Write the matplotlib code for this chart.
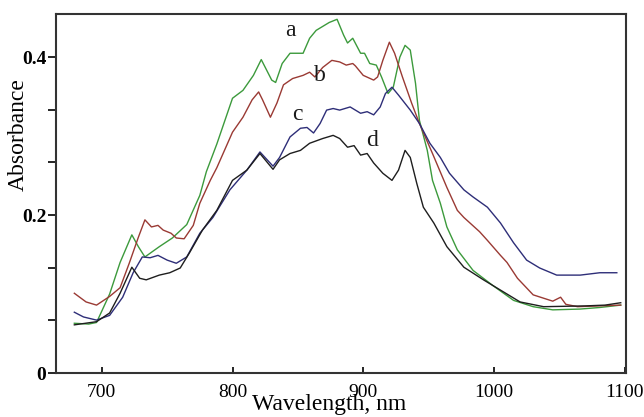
import numpy as np
import matplotlib.pyplot as plt
from matplotlib.ticker import FixedLocator, FuncFormatter

plt.rcParams['font.family'] = ['Liberation Serif', 'DejaVu Serif']

# curve a (green)
wl_a = [679, 690, 696, 706, 714, 723, 728, 733, 744, 754, 765, 775, 780, 788, 800, 808,
        816, 822, 830, 833, 838, 844, 854, 859, 864, 874, 880, 885, 888, 892, 898, 901,
        905, 910, 914, 919, 923, 928, 932, 936, 940, 943, 949, 953, 959, 964, 972, 984,
        999, 1015, 1030, 1045, 1066, 1081, 1097]
abs_a = [0.063, 0.062, 0.064, 0.100, 0.140, 0.175, 0.160, 0.147, 0.160, 0.171, 0.188, 0.225,
         0.255, 0.290, 0.348, 0.358, 0.377, 0.397, 0.371, 0.368, 0.392, 0.405, 0.405, 0.424,
         0.434, 0.444, 0.448, 0.428, 0.418, 0.424, 0.405, 0.405, 0.392, 0.390, 0.375, 0.354,
         0.362, 0.400, 0.415, 0.409, 0.367, 0.320, 0.282, 0.244, 0.215, 0.185, 0.156, 0.130,
         0.111, 0.092, 0.084, 0.080, 0.081, 0.083, 0.086]

# curve b (red)
wl_b = [679, 688, 696, 706, 714, 721, 728, 733, 738, 743, 747, 753, 757, 763, 770, 775,
        783, 788, 800, 808, 815, 820, 823, 829, 834, 839, 846, 854, 859, 863, 869, 876,
        882, 887, 892, 894, 900, 908, 911, 915, 920, 924, 930, 937, 943, 953, 964, 972,
        977, 989, 995, 1005, 1010, 1018, 1030, 1045, 1051, 1055, 1064, 1080, 1097]
abs_b = [0.101, 0.090, 0.086, 0.097, 0.108, 0.139, 0.172, 0.194, 0.185, 0.187, 0.181, 0.177,
         0.171, 0.170, 0.187, 0.215, 0.244, 0.260, 0.305, 0.324, 0.346, 0.356, 0.346, 0.324,
         0.342, 0.365, 0.373, 0.377, 0.381, 0.375, 0.387, 0.396, 0.394, 0.390, 0.392, 0.389,
         0.377, 0.371, 0.375, 0.396, 0.419, 0.405, 0.375, 0.342, 0.316, 0.278, 0.235, 0.206,
         0.197, 0.179, 0.168, 0.149, 0.140, 0.120, 0.099, 0.091, 0.096, 0.087, 0.084, 0.085,
         0.086]

# curve c (blue)
wl_c = [679, 686, 696, 706, 716, 724, 731, 737, 743, 750, 757, 765, 775, 785, 798, 811,
        821, 831, 836, 844, 852, 857, 862, 867, 872, 877, 882, 890, 898, 903, 908, 913,
        917, 922, 927, 936, 943, 951, 959, 966, 977, 984, 995, 1005, 1015, 1025, 1035,
        1048, 1066, 1081, 1094]
abs_c = [0.077, 0.071, 0.067, 0.073, 0.096, 0.127, 0.147, 0.146, 0.149, 0.143, 0.139, 0.147,
         0.177, 0.197, 0.232, 0.257, 0.280, 0.262, 0.273, 0.299, 0.310, 0.311, 0.304, 0.316,
         0.333, 0.335, 0.333, 0.337, 0.329, 0.331, 0.327, 0.337, 0.354, 0.362, 0.352, 0.333,
         0.316, 0.291, 0.273, 0.253, 0.232, 0.223, 0.210, 0.190, 0.165, 0.143, 0.133, 0.124,
         0.124, 0.127, 0.127]

# curve d (black)
wl_d = [679, 696, 706, 714, 723, 729, 734, 744, 752, 760, 767, 777, 788, 800, 811, 821,
        831, 836, 844, 852, 859, 869, 877, 882, 888, 893, 898, 903, 908, 915, 922, 927,
        932, 936, 941, 946, 954, 964, 977, 992, 1005, 1020, 1038, 1070, 1085, 1097]
abs_d = [0.061, 0.065, 0.076, 0.101, 0.134, 0.120, 0.118, 0.124, 0.127, 0.133, 0.152, 0.181,
         0.206, 0.244, 0.257, 0.278, 0.258, 0.270, 0.278, 0.282, 0.291, 0.297, 0.301, 0.297,
         0.286, 0.288, 0.276, 0.278, 0.266, 0.253, 0.244, 0.257, 0.282, 0.273, 0.240, 0.210,
         0.190, 0.160, 0.134, 0.118, 0.105, 0.090, 0.084, 0.085, 0.086, 0.089]

labels = ['a', 'b', 'c', 'd']
label_x = [844, 867, 850, 907]
label_y = [0.434, 0.377, 0.327, 0.295]

fig = plt.figure(figsize=(6.44, 4.17), dpi=100)
ax = fig.add_axes([0.087, 0.1055, 0.885, 0.8605])

ax.plot(wl_a, abs_a, color='#3c9a3c', lw=1.0)
ax.plot(wl_b, abs_b, color='#9a3a34', lw=1.0)
ax.plot(wl_c, abs_c, color='#2e2e78', lw=1.0)
ax.plot(wl_d, abs_d, color='#1e1e1e', lw=1.0)

for lab, lx, ly in zip(labels, label_x, label_y):
    ax.text(lx, ly, lab, fontsize=17, ha='center', va='center', color='#1a1a1a')

ax.set_xlim(665, 1101)
ax.set_ylim(0, 0.4545)

ax.set_xticks([700, 800, 900, 1000, 1100])
ax.set_yticks([0, 0.2, 0.4])
ax.yaxis.set_minor_locator(FixedLocator([0.2 / 3, 0.4 / 3, 0.8 / 3, 1.0 / 3]))
ax.yaxis.set_major_formatter(FuncFormatter(lambda v, p: '0' if v == 0 else '%.1f' % v))

ax.tick_params(axis='x', direction='in', length=4, width=1.2, labelsize=14, pad=8)
ax.tick_params(axis='y', direction='out', length=6, width=1.2, labelsize=14, pad=1)
ax.tick_params(axis='y', which='minor', direction='out', length=6, width=1.2)
for t in ax.get_yticklabels():
    t.set_fontweight('bold')

for s in ax.spines.values():
    s.set_linewidth(1.5)
    s.set_color('#333333')

ax.set_xlabel('Wavelength, nm', fontsize=17, va='bottom')
ax.xaxis.set_label_coords(0.48, -0.117)
ax.set_ylabel('Absorbance', fontsize=17)
ax.yaxis.set_label_coords(-0.048, 0.665)

fig.savefig('out.png', dpi=100)
